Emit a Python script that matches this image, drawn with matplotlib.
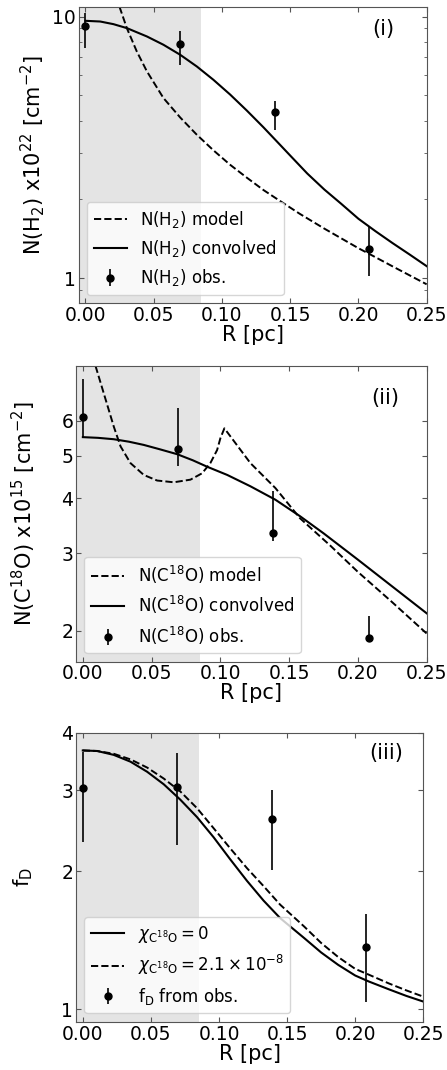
import numpy as np
import matplotlib
matplotlib.use("Agg")
import matplotlib.pyplot as plt
from matplotlib import ticker

# observed radii [pc]
r_obs = [0.0, 0.0693, 0.1386, 0.2079]

# (i) N(H2) x1e22 cm^-2
nh2_obs = [9.16, 7.84, 4.30, 1.29]
nh2_lo = [7.57, 6.50, 3.69, 1.02]
nh2_hi = [10.35, 8.81, 4.77, 1.58]
r_nh2_conv = [0.0, 0.0108, 0.0205, 0.0303, 0.045, 0.0571, 0.0694, 0.0816,
              0.0937, 0.106, 0.1182, 0.1304, 0.1426, 0.15, 0.1625, 0.175,
              0.1875, 0.20, 0.2125, 0.225, 0.2375, 0.25]
nh2_conv = [9.63, 9.57, 9.35, 9.03, 8.39, 7.80, 7.14, 6.44,
            5.73, 5.03, 4.37, 3.77, 3.23, 2.94, 2.51, 2.18,
            1.92, 1.685, 1.51, 1.36, 1.23, 1.11]
r_nh2_model = [0.0249, 0.0303, 0.0376, 0.045, 0.0571, 0.0694, 0.0816,
               0.0937, 0.106, 0.1182, 0.1304, 0.1426, 0.157, 0.175,
               0.20, 0.21, 0.225, 0.25]
nh2_model = [10.9, 9.03, 7.35, 6.17, 4.88, 4.11, 3.53,
             3.08, 2.71, 2.42, 2.17, 1.97, 1.76, 1.545,
             1.30, 1.22, 1.108, 0.946]

# (ii) N(C18O) x1e15 cm^-2
nco_obs = [6.12, 5.17, 3.34, 1.92]
nco_lo = [5.50, 4.74, 3.20, 1.90]
nco_hi = [7.47, 6.43, 4.15, 2.16]
r_nco_conv = [0.0, 0.011, 0.0225, 0.0335, 0.0443, 0.056, 0.0685, 0.080,
              0.0903, 0.105, 0.1218, 0.14, 0.158, 0.175, 0.20, 0.225, 0.25]
nco_conv = [5.51, 5.49, 5.45, 5.38, 5.29, 5.17, 5.04, 4.88,
            4.72, 4.52, 4.26, 3.97, 3.64, 3.33, 2.90, 2.52, 2.19]
r_nco_model = [0.0092, 0.0152, 0.0225, 0.0274, 0.0346, 0.0443, 0.054, 0.0661,
               0.0782, 0.0867, 0.0927, 0.0976, 0.10, 0.1029, 0.1218, 0.14,
               0.158, 0.18, 0.20, 0.225, 0.25]
nco_model = [8.0, 6.93, 5.82, 5.25, 4.81, 4.52, 4.39, 4.35,
             4.41, 4.56, 4.81, 5.15, 5.48, 5.77, 4.81, 4.22,
             3.60, 3.12, 2.72, 2.32, 1.97]

# (iii) depletion factor
fd_obs = [3.04, 3.05, 2.59, 1.366]
fd_lo = [2.31, 2.28, 2.01, 1.04]
fd_hi = [3.63, 3.61, 3.00, 1.61]
r_fd = [0.0, 0.0106, 0.0227, 0.035, 0.0472, 0.0594, 0.0716, 0.0839, 0.096,
        0.1083, 0.1205, 0.1327, 0.1449, 0.1625, 0.175, 0.1875, 0.20, 0.21,
        0.225, 0.2375, 0.25]
fd_chi0 = [3.66, 3.65, 3.58, 3.46, 3.29, 3.09, 2.86, 2.62, 2.37,
           2.12, 1.905, 1.725, 1.58, 1.43, 1.33, 1.25, 1.185, 1.15,
           1.105, 1.07, 1.04]
fd_chi21 = [3.66, 3.65, 3.60, 3.50, 3.36, 3.18, 2.98, 2.74, 2.48,
            2.24, 2.03, 1.855, 1.69, 1.515, 1.395, 1.30, 1.225, 1.19,
            1.138, 1.10, 1.066]

beam_edge = 0.085
grey = "#555555"

plt.rcParams["font.family"] = "DejaVu Sans"
fig = plt.figure(figsize=(4.47, 10.7), dpi=100)
ax1 = fig.add_axes([0.176, 0.7165, 0.7785, 0.2772])
ax2 = fig.add_axes([0.170, 0.3816, 0.7846, 0.2764])
ax3 = fig.add_axes([0.170, 0.0451, 0.7770, 0.2701])


def errs(obs, lo, hi):
    return [np.array(obs) - np.array(lo), np.array(hi) - np.array(obs)]


def style(ax, ylim, yticks, tag, tag_pos):
    ax.set_yscale("log")
    ax.set_xlim(-0.005, 0.25)
    ax.set_ylim(*ylim)
    ax.axvspan(-0.005, beam_edge, color="#e4e4e4", zorder=0, lw=0)
    ax.set_xticks([0.0, 0.05, 0.10, 0.15, 0.20, 0.25])
    ax.xaxis.set_major_formatter(ticker.FormatStrFormatter("%.2f"))
    if yticks is not None:
        ax.set_yticks(yticks)
        ax.yaxis.set_minor_locator(ticker.NullLocator())
    ax.yaxis.set_major_formatter(ticker.FormatStrFormatter("%g"))
    ax.yaxis.set_minor_formatter(ticker.NullFormatter())
    ax.tick_params(which="both", direction="in", top=True, right=True,
                   color=grey, labelsize=13.5, pad=2)
    for s in ax.spines.values():
        s.set_color(grey)
    ax.set_xlabel("R [pc]", fontsize=15, labelpad=0)
    ax.text(tag_pos[0], tag_pos[1], tag, transform=ax.transAxes, fontsize=15,
            ha="center", va="center")


# panel (i)
ax1.plot(r_nh2_model, nh2_model, "k--", lw=1.4, label=r"N(H$_2$) model")
ax1.plot(r_nh2_conv, nh2_conv, "k-", lw=1.5, label=r"N(H$_2$) convolved")
ax1.errorbar(r_obs, nh2_obs, yerr=errs(nh2_obs, nh2_lo, nh2_hi), fmt="ko",
             ms=5, elinewidth=1.2, label=r"N(H$_2$) obs.")
style(ax1, (0.8, 10.9), None, "(i)", (0.875, 0.925))
ax1.set_ylabel(r"N(H$_2$) x10$^{22}$ [cm$^{-2}$]", fontsize=15)
ax1.yaxis.set_label_coords(-0.092, 0.5)
ax1.legend(loc="lower left", fontsize=12)

# panel (ii)
ax2.plot(r_nco_model, nco_model, "k--", lw=1.4, label=r"N(C$^{18}$O) model")
ax2.plot(r_nco_conv, nco_conv, "k-", lw=1.5, label=r"N(C$^{18}$O) convolved")
ax2.errorbar(r_obs, nco_obs, yerr=errs(nco_obs, nco_lo, nco_hi), fmt="ko",
             ms=5, elinewidth=1.2, label=r"N(C$^{18}$O) obs.")
style(ax2, (1.7, 8.0), [2, 3, 4, 5, 6], "(ii)", (0.881, 0.891))
ax2.set_ylabel(r"N(C$^{18}$O) x10$^{15}$ [cm$^{-2}$]", fontsize=15)
ax2.yaxis.set_label_coords(-0.108, 0.5)
ax2.legend(loc="lower left", fontsize=12)

# panel (iii)
ax3.plot(r_fd, fd_chi0, "k-", lw=1.5, label=r"$\chi_{\rm C^{18}O} = 0$")
ax3.plot(r_fd, fd_chi21, "k--", lw=1.4,
         label=r"$\chi_{\rm C^{18}O} = 2.1 \times 10^{-8}$")
ax3.errorbar(r_obs, fd_obs, yerr=errs(fd_obs, fd_lo, fd_hi), fmt="ko",
             ms=5, elinewidth=1.2, label=r"f$_{\rm D}$ from obs.")
style(ax3, (0.94, 4.0), [1, 2, 3, 4], "(iii)", (0.892, 0.931))
ax3.set_ylabel(r"f$_{\rm D}$", fontsize=15)
ax3.yaxis.set_label_coords(-0.118, 0.5)
ax3.legend(loc="lower left", fontsize=12)

fig.savefig("out.png", dpi=100)
